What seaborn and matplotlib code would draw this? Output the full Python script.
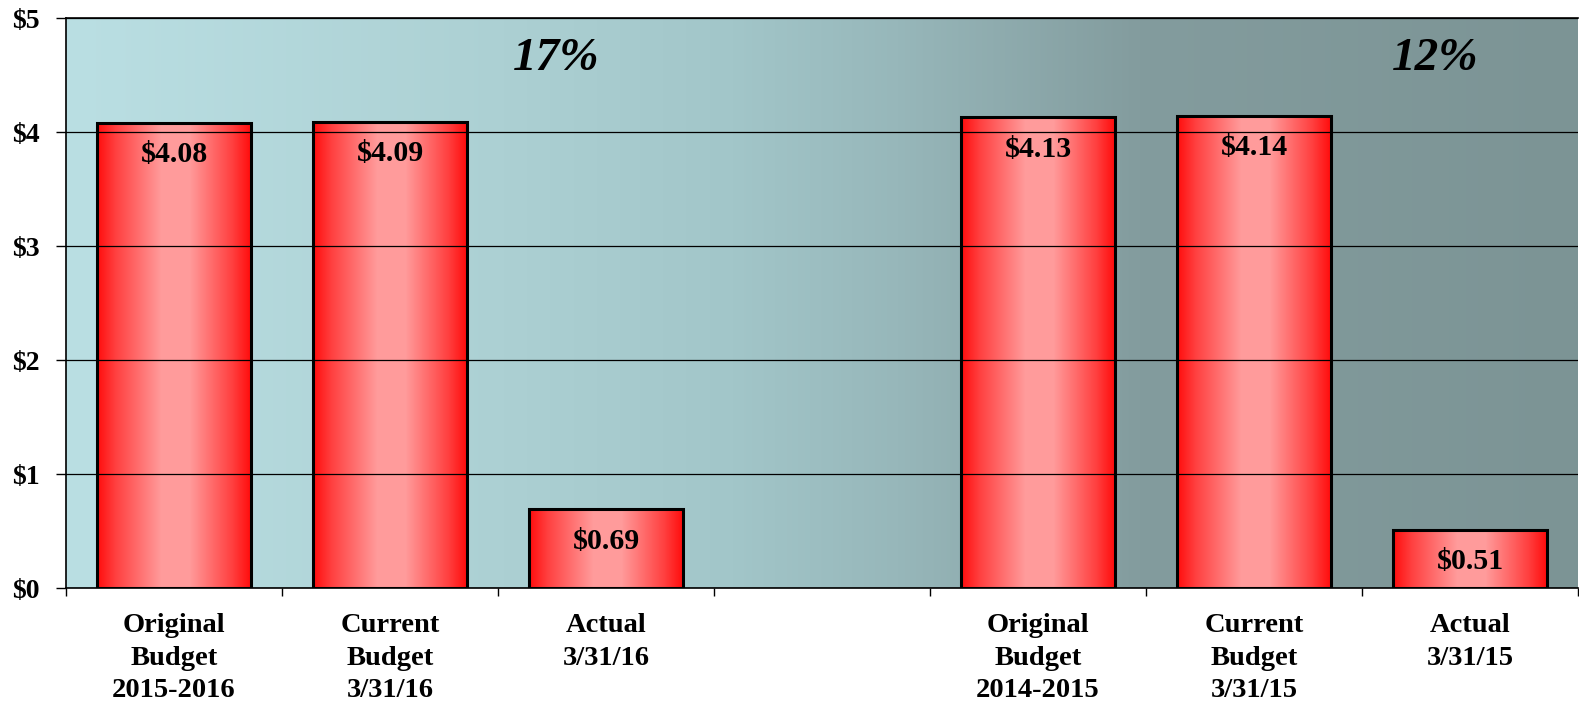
import numpy as np
import pandas as pd
import matplotlib
matplotlib.use("Agg")
import matplotlib.pyplot as plt
import seaborn as sns
from matplotlib.colors import LinearSegmentedColormap

# ---- data -------------------------------------------------------------
categories = [
    "Original\nBudget\n2015-2016",
    "Current\nBudget\n3/31/16",
    "Actual\n3/31/16",
    " ",
    "Original\nBudget\n2014-2015",
    "Current\nBudget\n3/31/15",
    "Actual\n3/31/15",
]
values = [4.08, 4.09, 0.69, np.nan, 4.13, 4.14, 0.51]
y_ticks = [0, 1, 2, 3, 4, 5]
y_tick_labels = ["$0", "$1", "$2", "$3", "$4", "$5"]

# share of the current budget spent to date, per fiscal year
pct_pairs = [(1, 2), (5, 6)]          # (current budget index, actual index)
pct_positions = [1.77, 5.84]

df = pd.DataFrame({"label": categories, "value": values})

# ---- style ------------------------------------------------------------
sns.set_style("ticks")
plt.rcParams["font.family"] = ["Liberation Serif", "DejaVu Serif"]
plt.rcParams["font.weight"] = "bold"
plt.rcParams["text.color"] = "black"
plt.rcParams["xtick.color"] = "black"
plt.rcParams["ytick.color"] = "black"
plt.rcParams["xtick.labelcolor"] = "black"
plt.rcParams["ytick.labelcolor"] = "black"

W, H = 1579, 702
fig = plt.figure(figsize=(W / 100, H / 100), dpi=100, facecolor="white")
ax = fig.add_axes([66 / W, (H - 588) / H, 1512 / W, 570 / H])

sns.barplot(data=df, x="label", y="value", order=categories, width=0.71,
            errorbar=None, edgecolor="black", linewidth=2.2, ax=ax,
            color="red")

# background: horizontal gradient from pale cyan to grey-teal
bg_stops = [
    (0.00, (186, 223, 227)),
    (0.29, (172, 208, 211)),
    (0.44, (162, 198, 201)),
    (0.55, (151, 183, 186)),
    (0.71, (131, 156, 158)),
    (1.00, (124, 148, 149)),
]
bg_cmap = LinearSegmentedColormap.from_list(
    "bg", [(p, tuple(c / 255 for c in rgb)) for p, rgb in bg_stops])
ax.imshow(np.linspace(0, 1, 512)[None, :], cmap=bg_cmap, aspect="auto",
          extent=[0, 1, 0, 1], transform=ax.transAxes, zorder=0)

# bars: red edges fading to pink in the middle
bar_cmap = LinearSegmentedColormap.from_list("bar", [
    (0.00, (1.0, 0.05, 0.05)),
    (0.12, (1.0, 0.25, 0.25)),
    (0.42, (1.0, 0.61, 0.61)),
    (0.60, (1.0, 0.61, 0.61)),
    (0.88, (1.0, 0.25, 0.25)),
    (1.00, (1.0, 0.05, 0.05)),
])
grad = np.linspace(0, 1, 256)[None, :]
for patch in ax.patches:
    h = patch.get_height()
    if not np.isfinite(h) or h <= 0:
        continue
    x0, w = patch.get_x(), patch.get_width()
    img = ax.imshow(grad, cmap=bar_cmap, aspect="auto",
                    extent=[x0, x0 + w, 0, h], zorder=2)
    img.set_clip_path(patch)
    patch.set_facecolor("none")
    patch.set_zorder(3)

# value labels just inside the top of each bar
for i, v in enumerate(values):
    if not np.isfinite(v):
        continue
    ax.text(i, v - 0.28, f"${v:.2f}", ha="center", va="center",
            fontsize=21.5, fontweight="bold", color="black", zorder=4)

# percentage of budget spent
for (cur, act), xp in zip(pct_pairs, pct_positions):
    pct = round(values[act] / values[cur] * 100)
    ax.text(xp, 4.64, f"{pct}%", ha="center", va="center", fontsize=34,
            fontweight="bold", fontstyle="italic", color="black", zorder=4)

# ---- axes -------------------------------------------------------------
ax.set_xlim(-0.5, len(categories) - 0.5)
ax.set_ylim(0, 5)
ax.set_yticks(y_ticks)
ax.set_yticklabels(y_tick_labels, fontsize=20, fontweight="bold")
ax.set_xticks(range(len(categories)))
ax.set_xticklabels(categories, fontsize=20.5, fontweight="bold",
                   linespacing=1.4)
ax.set_xticks(np.arange(-0.5, len(categories), 1), minor=True)
ax.tick_params(axis="x", which="major", length=0, pad=18)
ax.tick_params(axis="x", which="minor", length=6, width=1, color="black")
ax.tick_params(axis="y", length=7, width=1, color="black", pad=12)
ax.set_xlabel("")
ax.set_ylabel("")

ax.yaxis.grid(True, color="black", linewidth=0.9, zorder=1)
ax.set_axisbelow(False)
for gl in ax.get_ygridlines():
    gl.set_zorder(1)

for side in ["left", "bottom", "top"]:
    ax.spines[side].set_visible(True)
    ax.spines[side].set_color("black")
    ax.spines[side].set_linewidth(1.2)
    ax.spines[side].set_zorder(5)
ax.spines["right"].set_visible(False)

fig.savefig("out.png", dpi=100, facecolor="white")
